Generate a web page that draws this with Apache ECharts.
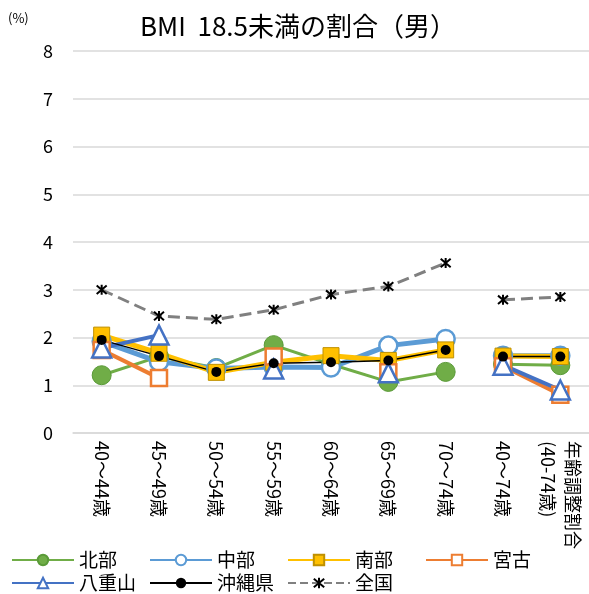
<!DOCTYPE html>
<html>
<head>
<meta charset="utf-8">
<script src="https://cdn.jsdelivr.net/npm/echarts@6/dist/echarts.min.js"></script>
<style>html,body{margin:0;padding:0;background:#fff;}#c{width:589px;height:594px;}</style>
</head>
<body>
<div id="c"></div>
<script>
const categories = ['40～44歳','45～49歳','50～54歳','55～59歳','60～64歳','65～69歳','70～74歳','40～74歳','年齢調整割合\n(40-74歳)'];
const yTicks = [0,1,2,3,4,5,6,7,8];
const hokubu  = [1.21, 1.60, 1.36, 1.84, 1.44, 1.07, 1.28, 1.44, 1.42];
const chubu   = [1.92, 1.49, 1.35, 1.38, 1.37, 1.83, 1.97, 1.62, 1.62];
const nanbu   = [2.05, 1.67, 1.27, 1.48, 1.62, 1.52, 1.74, 1.61, 1.60];
const miyako  = [1.74, 1.15, null, 1.60, null, 1.27, null, 1.40, 0.80];
const yaeyama = [1.78, 2.05, null, 1.34, null, 1.26, null, 1.42, 0.90];
const okinawa = [1.95, 1.61, 1.28, 1.46, 1.48, 1.52, 1.74, 1.60, 1.60];
const zenkoku = [3.00, 2.45, 2.38, 2.58, 2.90, 3.07, 3.56, 2.79, 2.85];

const FONT = '"Noto Sans CJK JP","Noto Sans",sans-serif';
function seg(arr, from, to){ return arr.map((v,i)=> (i>=from && i<=to) ? v : null); }

const starPath = 'path://M0,0L10,10M10,0L0,10M5,-1L5,11';

const defs = [
  {name:'北部', data:hokubu, color:'#70AD47', lw:3, symbol:'circle', size:19, fill:'#70AD47', border:'#5A9A38', bw:1},
  {name:'中部', data:chubu, color:'#5B9BD5', lw:5, symbol:'circle', size:18, fill:'#FFFFFF', border:'#5B9BD5', bw:2.5},
  {name:'南部', data:nanbu, color:'#FFC000', lw:5, symbol:'rect', size:16, fill:'#FFC000', border:'#BF9000', bw:1},
  {name:'宮古', data:miyako, color:'#ED7D31', lw:4, symbol:'rect', size:16, fill:'#FFFFFF', border:'#ED7D31', bw:2.5},
  {name:'八重山', data:yaeyama, color:'#4472C4', lw:4, symbol:'triangle', size:19, fill:'#FFFFFF', border:'#4472C4', bw:2.5},
  {name:'沖縄県', data:okinawa, color:'#000000', lw:1.5, symbol:'circle', size:10, fill:'#000000', border:'#000000', bw:0},
  {name:'全国', data:zenkoku, color:'#808080', lw:3, symbol:starPath, size:10, fill:'none', border:'#000000', bw:2, dash:'dashed'}
];

const series = [];
defs.forEach(d=>{
  [[0,6],[7,8]].forEach(r=>{
    series.push({
      name:d.name, type:'line', data:seg(d.data, r[0], r[1]),
      connectNulls:false, symbol:d.symbol, symbolSize:d.size, showAllSymbol:true,
      lineStyle:{color:d.color, width:d.lw, type:d.dash||'solid'},
      itemStyle:{color:d.fill==='none'?'rgba(0,0,0,0)':d.fill, borderColor:d.border, borderWidth:d.bw},
      emphasis:{disabled:true}, animation:false
    });
  });
});

const chart = echarts.init(document.getElementById('c'), null, {renderer:'canvas'});
chart.setOption({
  backgroundColor:'#fff',
  animation:false,
  title:{text:'BMI  18.5未満の割合（男）', left:293, textAlign:'center', top:8,
    textStyle:{fontFamily:FONT, fontSize:26, fontWeight:'normal', color:'#000'}},
  graphic:[{type:'text', left:8, top:12, style:{text:'(%)', fontFamily:FONT, fontSize:13, fill:'#000'}}],
  grid:{left:73, right:-3, top:51, bottom:161, containLabel:false},
  legend:{
    data:defs.map(d=>d.name), left:11, top:550, width:550,
    itemWidth:62, itemHeight:13, itemGap:3, padding:0,
    textStyle:{fontFamily:FONT, fontSize:19, color:'#000', width:67, lineHeight:20, padding:[0,0,0,0]}
  },
  xAxis:{type:'category', data:categories, boundaryGap:true,
    axisLine:{lineStyle:{color:'#D9D9D9', width:1.5}}, axisTick:{show:false},
    axisLabel:{rotate:-90, interval:0, margin:8, fontFamily:FONT, fontSize:18, color:'#000', lineHeight:25}},
  yAxis:{type:'value', min:0, max:8, interval:1,
    axisLine:{show:false}, axisTick:{show:false},
    splitLine:{lineStyle:{color:'#D9D9D9', width:1.5}},
    axisLabel:{fontFamily:FONT, fontSize:18, color:'#000', margin:20,
      formatter:v=> yTicks.includes(v) ? String(v) : ''}},
  series:series
});
</script>
</body>
</html>
